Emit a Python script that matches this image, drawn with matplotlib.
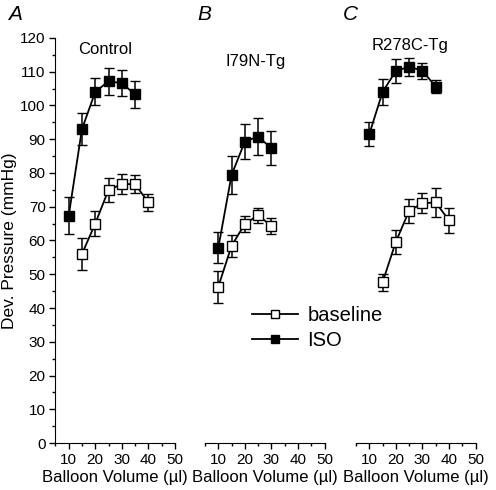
import matplotlib
matplotlib.use("Agg")
import matplotlib.pyplot as plt
from matplotlib.lines import Line2D
from matplotlib.ticker import MultipleLocator

plt.rcParams['font.family'] = ['Liberation Sans', 'DejaVu Sans']

# Control
a_vol_iso = [10, 15, 20, 25, 30, 35]
a_iso = [67.3, 93.0, 104.0, 107.2, 106.6, 103.3]
a_iso_err = [5.5, 4.8, 4.0, 4.0, 3.8, 4.0]
a_vol_base = [15, 20, 25, 30, 35, 40]
a_base = [56.0, 65.0, 75.0, 76.7, 76.7, 71.3]
a_base_err = [4.8, 3.6, 3.6, 3.0, 2.6, 2.5]

# I79N-Tg
b_vol_iso = [10, 15, 20, 25, 30]
b_iso = [57.8, 79.4, 89.3, 90.8, 87.3]
b_iso_err = [4.6, 5.5, 5.3, 5.4, 5.0]
b_vol_base = [10, 15, 20, 25, 30]
b_base = [46.3, 58.4, 64.9, 67.5, 64.3]
b_base_err = [4.8, 3.3, 2.5, 2.2, 2.3]

# R278C-Tg
c_vol_iso = [10, 15, 20, 25, 30, 35]
c_iso = [91.5, 104.0, 110.2, 111.5, 110.3, 105.6]
c_iso_err = [3.5, 3.8, 3.6, 2.7, 2.4, 2.0]
c_vol_base = [15, 20, 25, 30, 35, 40]
c_base = [47.6, 59.6, 68.8, 71.0, 71.3, 66.0]
c_base_err = [2.5, 3.5, 3.5, 3.0, 4.2, 3.7]

panels = [
    ("A", "Control", (23.7, 116.7), a_vol_iso, a_iso, a_iso_err, a_vol_base, a_base, a_base_err),
    ("B", "I79N-Tg", (24.0, 112.9), b_vol_iso, b_iso, b_iso_err, b_vol_base, b_base, b_base_err),
    ("C", "R278C-Tg", (25.4, 117.9), c_vol_iso, c_iso, c_iso_err, c_vol_base, c_base, c_base_err),
]

fig = plt.figure(figsize=(4.96, 4.90), dpi=100)
bottom = 47 / 490
height = 405 / 490
lefts = [55.4 / 496, 205 / 496, 356 / 496]
width = 119.5 / 496
letter_x = [8 / 496, 197 / 496, 343 / 496]

for i, (letter, title, tpos, vx_i, iso, iso_e, vx_b, base, base_e) in enumerate(panels):
    ax = fig.add_axes([lefts[i], bottom, width, height])
    ax.set_xlim(5, 50)
    ax.set_ylim(0, 120)
    # baseline
    ax.errorbar(vx_b, base, yerr=base_e, color='black', lw=1.3, elinewidth=1.1,
                capsize=3.3, capthick=1.1, marker='s', ms=7.5, mfc='white', mec='black',
                mew=1.0, zorder=3)
    # ISO
    ax.errorbar(vx_i, iso, yerr=iso_e, color='black', lw=1.3, elinewidth=1.1,
                capsize=3.3, capthick=1.1, marker='s', ms=7.5, mfc='black', mec='black',
                mew=1.0, zorder=3)
    ax.text(tpos[0], tpos[1], title, ha='center', va='center', fontsize=12)
    fig.text(letter_x[i], 1 - 15 / 490, letter, fontsize=15, style='italic',
             ha='left', va='center')

    for s in ['top', 'right']:
        ax.spines[s].set_visible(False)
    ax.set_xticks([10, 20, 30, 40, 50])
    ax.xaxis.set_minor_locator(MultipleLocator(5))
    ax.tick_params(axis='both', which='major', direction='out', length=4, width=1,
                   labelsize=11, pad=3)
    ax.tick_params(axis='both', which='minor', direction='out', length=2, width=1)
    ax.set_xlabel('Balloon Volume (\u00b5l)', fontsize=12, labelpad=2)
    if i == 0:
        ax.set_yticks(range(0, 121, 10))
        ax.yaxis.set_minor_locator(MultipleLocator(5))
        ax.set_ylabel('Dev. Pressure (mmHg)', fontsize=12.5, labelpad=2)
    else:
        ax.spines['left'].set_visible(False)
        ax.set_yticks([])
        ax.yaxis.set_minor_locator(plt.NullLocator())
    ax.patch.set_visible(False)

handles = [
    Line2D([], [], color='black', lw=1.3, marker='s', ms=5.5, mfc='white', mec='black'),
    Line2D([], [], color='black', lw=1.3, marker='s', ms=5.5, mfc='black', mec='black'),
]
fig.legend(handles, ['baseline', 'ISO'], loc='center left',
           bbox_to_anchor=(252 / 496, 1 - 328 / 490), frameon=False, fontsize=14.5,
           handlelength=2.3, handletextpad=0.45, labelspacing=0.3, borderpad=0,
           borderaxespad=0)

fig.savefig('out.png', dpi=100)
